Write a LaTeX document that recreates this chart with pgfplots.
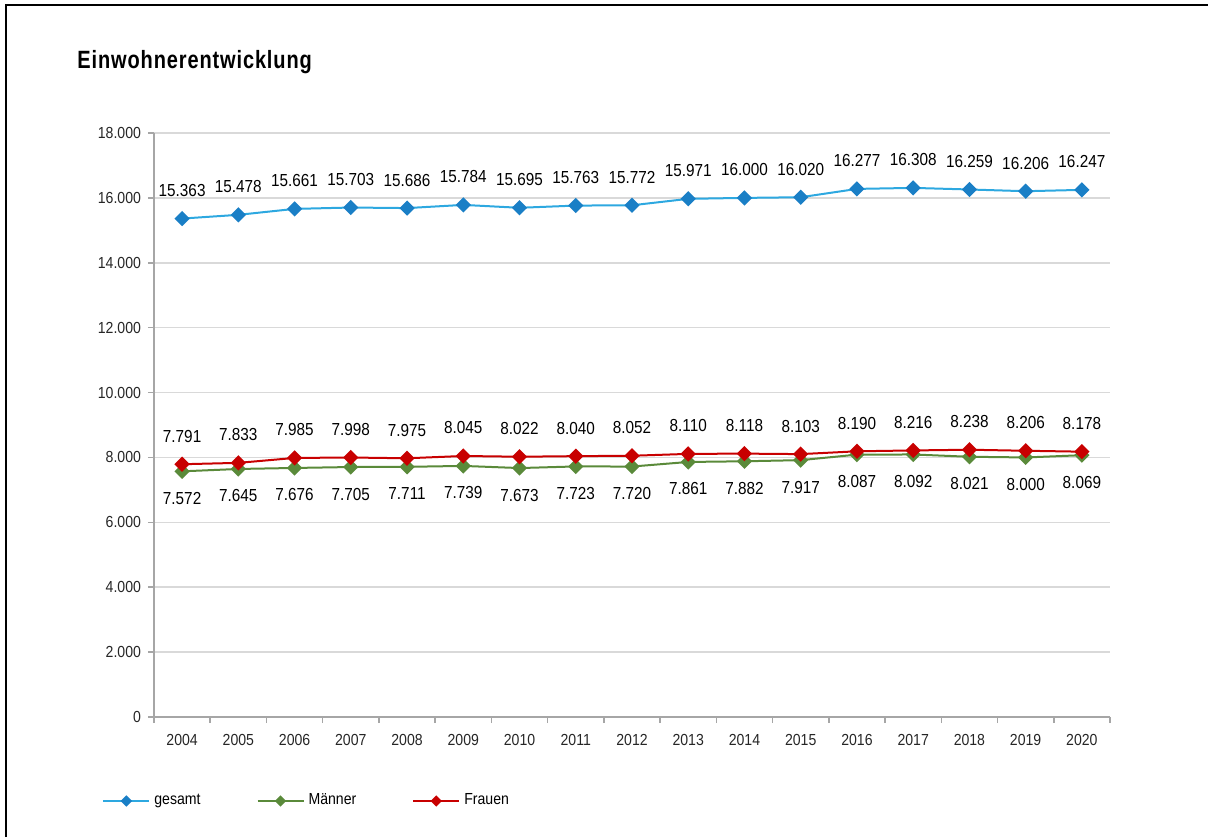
\documentclass[border=0pt]{standalone}
\usepackage{pgfplots}
\usepackage{pgfplotstable}
\pgfplotsset{compat=1.18}
\usepackage{fontspec}
\setmainfont{Liberation Sans}
\newfontfamily\narrowfont[FakeStretch=0.88]{Liberation Sans}
\newfontfamily\titlefont[FakeStretch=0.8,LetterSpace=3.5]{Liberation Sans}
\definecolor{cblue}{HTML}{2DA8E0}
\definecolor{cbluem}{HTML}{1A7FC6}
\definecolor{cgreen}{HTML}{5A8A3A}
\definecolor{cred}{HTML}{C80000}
\definecolor{axgray}{HTML}{A6A6A6}
\definecolor{gridgray}{HTML}{D9D9D9}
\pgfplotstableread{
x gesamt maenner frauen
0 15363 7572 7791
1 15478 7645 7833
2 15661 7676 7985
3 15703 7705 7998
4 15686 7711 7975
5 15784 7739 8045
6 15695 7673 8022
7 15763 7723 8040
8 15772 7720 8052
9 15971 7861 8110
10 16000 7882 8118
11 16020 7917 8103
12 16277 8087 8190
13 16308 8092 8216
14 16259 8021 8238
15 16206 8000 8206
16 16247 8069 8178
}\data
\begin{document}
\begin{tikzpicture}
\path[use as bounding box] (0,0) rectangle (604pt,418.5pt);
\draw[line width=1pt] (3pt,0) -- (3pt,416pt) -- (604pt,416pt);
\node[anchor=base west, inner sep=0pt, font=\titlefont\bfseries\fontsize{12.5}{14}\selectfont] at (38.5pt,384pt) {Einwohnerentwicklung};
\begin{axis}[
  at={(77pt,60pt)}, anchor=south west,
  scale only axis, width=478pt, height=292pt,
  xmin=-0.5, xmax=16.5, ymin=0, ymax=18000,
  axis lines*=left,
  axis line style={axgray, line width=0.75pt},
  xtick={0,...,16},
  xticklabels={2004,2005,2006,2007,2008,2009,2010,2011,2012,2013,2014,2015,2016,2017,2018,2019,2020},
  major x tick style={draw=none},
  minor xtick={-0.5,0.5,...,16.5},
  minor tick length=3pt,
  major tick length=3pt,
  tick align=outside,
  tick style={axgray, line width=0.75pt},
  ytick={0,2000,...,18000},
  scaled y ticks=false,
  ymajorgrids,
  grid style={gridgray, line width=0.75pt},
  /pgf/number format/.cd, 1000 sep={.}, assume math mode=true,
  /pgfplots/.cd,
  tick label style={font=\narrowfont\fontsize{8}{9}\selectfont, text=black!85},
  xticklabel style={yshift=-2pt},
  nodes near coords,
  every node near coord/.append style={font=\narrowfont\fontsize{8.7}{10}\selectfont, text=black, anchor=center},
  legend columns=3,
  legend style={draw=none, fill=none, at={(-0.0544,-0.1438)}, anchor=west, inner sep=0pt,
    font=\narrowfont\fontsize{8}{9}\selectfont,
    /tikz/every even column/.append style={column sep=26pt}},
  legend image code/.code={\draw[#1, mark repeat=2, mark phase=2, mark size=1.5pt] plot coordinates {(0pt,0pt)(11.5pt,0pt)(23pt,0pt)};},
  clip=false,
]
\addplot[cblue, line width=1pt, mark=square*, mark size=2.2pt, mark options={fill=cbluem, draw=cbluem, rotate=45},
  every node near coord/.append style={yshift=14pt}] table[x=x, y=gesamt] {\data};
\addlegendentry{gesamt}
\addplot[cgreen, line width=1pt, mark=square*, mark size=2.2pt, mark options={fill=cgreen, draw=cgreen, rotate=45},
  every node near coord/.append style={yshift=-13.5pt}] table[x=x, y=maenner] {\data};
\addlegendentry{Männer}
\addplot[cred, line width=1pt, mark=square*, mark size=2.2pt, mark options={fill=cred, draw=cred, rotate=45},
  every node near coord/.append style={yshift=14pt}] table[x=x, y=frauen] {\data};
\addlegendentry{Frauen}
\end{axis}
\end{tikzpicture}
\end{document}
